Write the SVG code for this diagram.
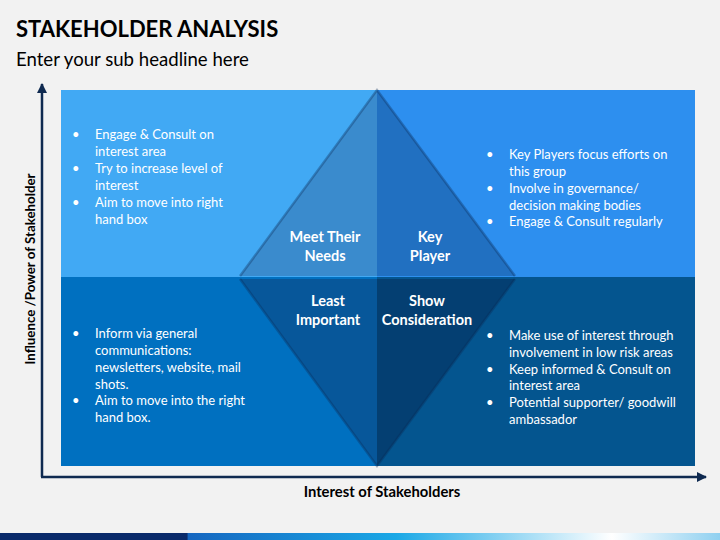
<svg xmlns="http://www.w3.org/2000/svg" width="720" height="540" viewBox="0 0 720 540">
<defs>
<style>
.t{font-family:Lato,"Open Sans","Liberation Sans",sans-serif;fill:#fff;font-size:13px}
.lbl{font-family:Lato,"Open Sans","Liberation Sans",sans-serif;fill:#fff;font-size:14.5px;font-weight:bold;text-anchor:middle}
.ax{font-family:Lato,"Open Sans","Liberation Sans",sans-serif;fill:#000;font-weight:bold;text-anchor:middle}
.edge{stroke:#0b2a55;stroke-opacity:0.35;stroke-width:2.5;fill:none}
</style>
<marker id="arr" viewBox="0 0 10 10" refX="9" refY="5" markerWidth="4" markerHeight="4" orient="auto"><path d="M0,0 L10,5 L0,10 z" fill="#0f2a50"/></marker>
<linearGradient id="bar" x1="0" y1="0" x2="1" y2="0">
<stop offset="0" stop-color="#0a2a6a"/><stop offset="0.26" stop-color="#0a2a6a"/><stop offset="0.261" stop-color="#1566c0"/><stop offset="0.55" stop-color="#1aa8e6"/><stop offset="0.85" stop-color="#ffffff"/><stop offset="1" stop-color="#8fd0f0"/>
</linearGradient>
</defs>
<rect width="720" height="540" fill="#f2f2f2"/>
<text x="16" y="37" font-family="Lato,'Open Sans','Liberation Sans',sans-serif" font-size="22" font-weight="bold" fill="#000">STAKEHOLDER ANALYSIS</text>
<text x="16" y="66" font-family="Lato,'Open Sans','Liberation Sans',sans-serif" font-size="18.6" fill="#000">Enter your sub headline here</text>
<g id="q-tl"><rect x="61" y="90" width="316" height="187" fill="#41a9f4"/>
<text class="t"><tspan x="72" y="139">•</tspan><tspan x="95" y="139">Engage &amp; Consult on</tspan><tspan x="95" y="156">interest area</tspan><tspan x="72" y="173">•</tspan><tspan x="95" y="173">Try to increase level of</tspan><tspan x="95" y="190">interest</tspan><tspan x="72" y="207">•</tspan><tspan x="95" y="207">Aim to move into right</tspan><tspan x="95" y="224">hand box</tspan></text></g>
<g id="q-tr"><rect x="377" y="90" width="318" height="187" fill="#2d8fef"/>
<text class="t"><tspan x="486" y="159">•</tspan><tspan x="509" y="159">Key Players focus efforts on</tspan><tspan x="509" y="176">this group</tspan><tspan x="486" y="193">•</tspan><tspan x="509" y="193">Involve in governance/</tspan><tspan x="509" y="210">decision making bodies</tspan><tspan x="486" y="226">•</tspan><tspan x="509" y="226">Engage &amp; Consult regularly</tspan></text></g>
<g id="q-bl"><rect x="61" y="277" width="316" height="189" fill="#0070c0"/>
<text class="t"><tspan x="72" y="338">•</tspan><tspan x="95" y="338">Inform via general</tspan><tspan x="95" y="355">communications:</tspan><tspan x="95" y="372">newsletters, website, mail</tspan><tspan x="95" y="389">shots.</tspan><tspan x="72" y="405">•</tspan><tspan x="95" y="405">Aim to move into the right</tspan><tspan x="95" y="422">hand box.</tspan></text></g>
<g id="q-br"><rect x="377" y="277" width="318" height="189" fill="#04558f"/>
<text class="t"><tspan x="486" y="340">•</tspan><tspan x="509" y="340">Make use of interest through</tspan><tspan x="509" y="357">involvement in low risk areas</tspan><tspan x="486" y="374">•</tspan><tspan x="509" y="374">Keep informed &amp; Consult on</tspan><tspan x="509" y="390">interest area</tspan><tspan x="486" y="407">•</tspan><tspan x="509" y="407">Potential supporter/ goodwill</tspan><tspan x="509" y="424">ambassador</tspan></text></g>
<g id="tri-up">
<polygon points="377,90 240,276 377,276" fill="#3a8bcd"/>
<polygon points="377,90 515,276 377,276" fill="#2170c1"/>
<polyline points="240,276 377,90 515,276" class="edge"/>
<text class="lbl"><tspan x="325" y="242">Meet Their</tspan><tspan x="325" y="261">Needs</tspan></text>
<text class="lbl"><tspan x="430" y="242">Key</tspan><tspan x="430" y="261">Player</tspan></text>
</g>
<g id="tri-down">
<polygon points="240,279 377,279 377,466" fill="#07579a"/>
<polygon points="377,279 515,279 377,466" fill="#043f72"/>
<polyline points="240,279 377,466 515,279" class="edge"/>
<text class="lbl"><tspan x="328" y="306">Least</tspan><tspan x="328" y="325">Important</tspan></text>
<text class="lbl"><tspan x="427" y="306">Show</tspan><tspan x="427" y="325">Consideration</tspan></text>
</g>
<g id="axes" fill="none" stroke="#0f2a50" stroke-width="2.5">
<line x1="42" y1="477" x2="42" y2="84" marker-end="url(#arr)"/>
<line x1="41" y1="477" x2="706" y2="477" marker-end="url(#arr)"/>
</g>
<text class="ax" x="382" y="497" font-size="14.8">Interest of Stakeholders</text>
<text class="ax" font-size="13.3" transform="translate(35,269) rotate(-90)">Influence /Power of Stakeholder</text>
<rect x="0" y="533" width="720" height="7" fill="url(#bar)"/>
</svg>
